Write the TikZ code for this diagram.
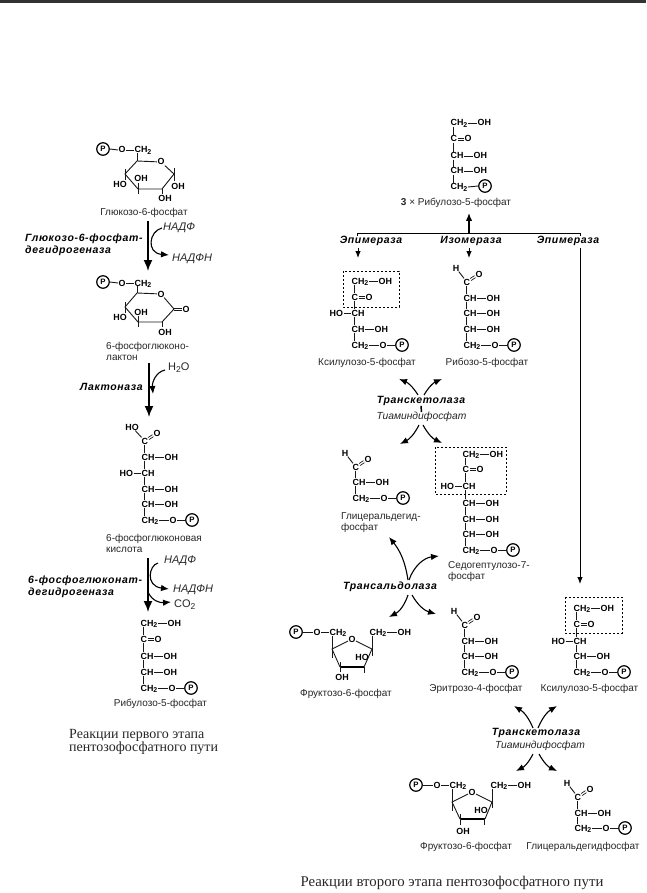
\documentclass[tikz,border=0pt]{standalone}
\usepackage{fontspec}
\usetikzlibrary{arrows.meta,calc}
\setmainfont{Liberation Sans}
\newfontfamily\enzfont[LetterSpace=6]{Liberation Sans}
\newfontfamily\capfont{Liberation Serif}
\newcommand{\two}{\raisebox{-1.6pt}{\fontsize{7}{7}\selectfont 2}}
% groups
\newcommand{\gr}[4]{\node[chem] (#1) at (#2,#3) {#4};}
\newcommand{\hb}[2]{\draw[bond] (#1.east) -- (#2.west);}
\newcommand{\vb}[2]{\draw[bond] ([xshift=3pt]#1.south west) -- ([xshift=3pt]#2.north west);}
% double bonds, drawn as two lines
\newcommand{\dbh}[2]{\draw[dbl,transform canvas={yshift=1.1pt}] (#1) -- (#2);\draw[dbl,transform canvas={yshift=-1.1pt}] (#1) -- (#2);}
\newcommand{\dbd}[2]{\draw[dbl,transform canvas={xshift=-.5pt,yshift=1pt}] (#1) -- (#2);\draw[dbl,transform canvas={xshift=.5pt,yshift=-1pt}] (#1) -- (#2);}
\newcommand{\CHOH}[3]{\gr{#1}{#2}{#3}{CH}\gr{#1r}{#2+23}{#3}{OH}\hb{#1}{#1r}}
\newcommand{\HOCH}[3]{\gr{#1}{#2}{#3}{CH}\gr{#1l}{#2-22}{#3}{HO}\hb{#1l}{#1}}
\newcommand{\COd}[3]{\gr{#1}{#2}{#3}{C}\gr{#1r}{#2+14}{#3}{O}\dbh{#1.east}{#1r.west}}
\newcommand{\CHtOH}[3]{\gr{#1}{#2}{#3}{CH\two}\gr{#1r}{#2+27}{#3}{OH}\hb{#1}{#1r}}
\newcommand{\CHtOP}[3]{\gr{#1}{#2}{#3}{CH\two}\gr{#1o}{#2+28}{#3}{O}\node[pc] (#1p) at (#2+51,#3) {P};\hb{#1}{#1o}\hb{#1o}{#1p}}
\newcommand{\CHO}[3]{\gr{#1}{#2}{#3}{C}\node[chemc] (#1h) at (#2-7,#3-14) {H};\node[chemc] (#1o) at (#2+16,#3-8) {O};\draw[bond] (#1h) -- (#1);\dbd{#1}{#1o}}
\tikzset{
  chem/.style={font=\fontsize{8.9}{9}\selectfont\bfseries,inner sep=0pt,outer sep=0.6pt,text height=6pt,text depth=0pt,anchor=west},
  chemc/.style={chem,anchor=center},
  bond/.style={line width=0.9pt,black!90},
  dbl/.style={line width=0.7pt,black!90},
  pc/.style={circle,draw,line width=1.2pt,inner sep=0pt,minimum size=12.5pt,font=\fontsize{7.8}{8}\selectfont\bfseries},
  lab/.style={font=\fontsize{10}{11}\selectfont,black!85,inner sep=0pt},
  labl/.style={lab,anchor=west,align=left},
  enz/.style={font=\fontsize{10.5}{12}\selectfont\enzfont\bfseries\itshape,inner sep=0pt,align=left},
  cof/.style={font=\fontsize{10.3}{11}\selectfont\itshape,black!85,inner sep=0pt},
  nad/.style={font=\fontsize{11}{12}\selectfont\itshape,black!85,inner sep=0pt,anchor=west},
  captxt/.style={font=\fontsize{14}{13}\selectfont\capfont,black!85,inner sep=0pt},
  mainarr/.style={line width=1.6pt,-{Latex[length=11pt,width=9pt]}},
  sidearr/.style={line width=1.1pt,-{Latex[length=8pt,width=6.5pt]}},
  thinl/.style={line width=0.9pt},
  smallarr/.style={line width=0.9pt,-{Latex[length=7pt,width=5.5pt]}},
  dbox/.style={line width=1pt,dash pattern=on 2pt off 2pt},
}
\begin{document}
\begin{tikzpicture}[x=1pt,y=-1pt]
\useasboundingbox (0,0) rectangle (646,893);
\fill[black!80] (0,0) rectangle (646,3);
% ---------- glucose-6-phosphate
\node[pc] (ga) at (103,149) {P};
\gr{gb}{118}{150}{O}\gr{gc}{134}{150}{CH\two}\hb{ga}{gb}\hb{gb}{gc}
\node[chemc] (gO) at (161,162) {O};
\coordinate (gtl) at (137,161);\coordinate (gr) at (174,174);\coordinate (gbr) at (162,189);\coordinate (gbl) at (138,189);\coordinate (gl) at (125,174);
\draw[bond] (gO) -- (gtl) -- (gl) -- (gbl) -- (gbr) -- (gr) -- (gO);
\draw[bond] (137,153) -- (gtl);
\draw[bond] (125,169) -- (125,180);\draw[bond] (138,183) -- (138,194);\draw[bond] (174,168) -- (174,181);\draw[bond] (162,189) -- (162,194);
\node[chemc] (g1) at (120,185) {HO};\node[chemc] (g2) at (141,179) {OH};\node[chemc] (g3) at (178,187) {OH};\node[chemc] (g4) at (165,199) {OH};
\node[lab] (lg) at (144,213) {Глюкозо-6-фосфат};
% arrow 1
\coordinate (a1s) at (148,221);\coordinate (a1e) at (148,271);
\draw[mainarr] (a1s) -- (a1e);
\node[nad] (n1) at (163,228) {НАДФ};
\node[nad] (n2) at (172,259) {НАДФН};
\coordinate (b1s) at (162,228);\coordinate (b1e) at (169,255);
\draw[sidearr] (b1s) .. controls (149,231) and (146,253) .. (b1e);
\node[enz,anchor=west] (e1) at (25,245) {Глюкозо-6-фосфат-\\дегидрогеназа};
% ---------- lactone
\node[pc] (la) at (103,282) {P};
\gr{lb}{118}{283}{O}\gr{lc}{134}{283}{CH\two}\hb{la}{lb}\hb{lb}{lc}
\node[chemc] (lO) at (161,294) {O};
\coordinate (ltl) at (137,293);\coordinate (lr) at (174,309);\coordinate (lbr) at (162,322);\coordinate (lbl) at (138,322);\coordinate (ll) at (125,307);
\draw[bond] (lO) -- (ltl) -- (ll) -- (lbl) -- (lbr) -- (lr) -- (lO);
\draw[bond] (137,286) -- (ltl);
\draw[bond] (125,302) -- (125,313);\draw[bond] (138,316) -- (138,327);\draw[bond] (162,322) -- (162,327);
\node[chemc] (l1) at (120,317) {HO};\node[chemc] (l2) at (141,312) {OH};\node[chemc] (l3) at (186,309) {O};\node[chemc] (l4) at (165,332) {OH};
\dbh{lr}{l3.west}
\node[labl] (ll1) at (106,351.5) {6-фосфоглюконо-\\лактон};
% arrow 2
\coordinate (a2s) at (149,363);\coordinate (a2e) at (149,417);
\draw[mainarr] (a2s) -- (a2e);
\coordinate (b2s) at (165,370);\coordinate (b2e) at (153,394);
\draw[sidearr] (b2s) .. controls (156,372) and (152,382) .. (b2e);
\node[font=\fontsize{11}{12}\selectfont,anchor=west,inner sep=0pt,black!85] (w) at (168,368) {H\raisebox{-2pt}{\fontsize{8.5}{9}\selectfont 2}O};
\node[enz,anchor=west] (e2) at (80,387) {Лактоназа};
% ---------- gluconate
\gr{m1}{141}{441}{C}\node[chemc] (m1h) at (132,427) {HO};\node[chemc] (m1o) at (157,433) {O};
\draw[bond] (m1h) -- (m1);\dbd{m1}{m1o}
\CHOH{m2}{141}{457}\HOCH{m3}{141}{473}\CHOH{m4}{141}{489}\CHOH{m5}{141}{504}\CHtOP{m6}{141}{520}
\vb{m1}{m2}\vb{m2}{m3}\vb{m3}{m4}\vb{m4}{m5}\vb{m5}{m6}
\node[labl] (lm) at (106,543.5) {6-фосфоглюконовая\\кислота};
% arrow 3
\coordinate (a3s) at (148,558);\coordinate (a3e) at (148,612);
\draw[mainarr] (a3s) -- (a3e);
\coordinate (b3s) at (158,563);\coordinate (b3e) at (169,589);
\draw[sidearr] (b3s) .. controls (149,565) and (145,586) .. (b3e);
\coordinate (c3s) at (148,592);\coordinate (c3e) at (171,602);
\draw[sidearr] (c3s) .. controls (152,601) and (160,603) .. (c3e);
\node[nad] (n3) at (164,561) {НАДФ};
\node[nad] (n4) at (173,590) {НАДФН};
\node[font=\fontsize{11}{12}\selectfont,anchor=west,inner sep=0pt,black!85] (co) at (174,605) {CO\raisebox{-2pt}{\fontsize{8.5}{9}\selectfont 2}};
\node[enz,anchor=west] (e3) at (28,586.5) {6-фосфоглюконат-\\дегидрогеназа};
% ---------- ribulose left
\CHtOH{r1}{140}{623}\COd{r2}{140}{639}\CHOH{r3}{140}{656}\CHOH{r4}{140}{672}\CHtOP{r5}{140}{688}
\vb{r1}{r2}\vb{r2}{r3}\vb{r3}{r4}\vb{r4}{r5}
\node[lab] (lr5) at (160.5,704) {Рибулозо-5-фосфат};
\node[captxt,anchor=west,align=left] (cp1) at (69,742) {Реакции первого этапа\\пентозофосфатного пути};
% ---------- ribulose top right
\CHtOH{t1}{450}{123}\COd{t2}{450}{139}\CHOH{t3}{450}{156}\CHOH{t4}{450}{171}
\gr{t5}{450}{187}{CH\two}\node[pc] (t5p) at (485,186) {P};\hb{t5}{t5p}
\vb{t1}{t2}\vb{t2}{t3}\vb{t3}{t4}\vb{t4}{t5}
\node[lab] (lt) at (456,203) {\textbf{3} × Рибулозо-5-фосфат};
\coordinate (tu) at (469,233);\coordinate (tt) at (469,213);
\coordinate (hl) at (357,233);\coordinate (hr) at (580,233);
\draw[thinl] (357,236) -- (hl) -- (hr) -- (580,236);
\draw[mainarr,line width=1.3pt,-{Latex[length=8pt,width=6.5pt]}] (tu) -- (tt);
\node[enz] (ep1) at (371,241) {Эпимераза};
\node[enz] (iz) at (471,241) {Изомераза};
\node[enz] (ep2) at (568,241) {Эпимераза};
\coordinate (s1) at (358,248);\coordinate (s2) at (358,258);\draw[smallarr] (s1) -- (s2);
\coordinate (s3) at (469,248);\coordinate (s4) at (469,258);\draw[smallarr] (s3) -- (s4);
\coordinate (s5) at (580,248);\coordinate (s6) at (580,584);\draw[smallarr] (s5) -- (s6);
% xylulose 1
\CHtOH{x1}{351}{281}\COd{x2}{351}{297}\HOCH{x3}{351}{313}\CHOH{x4}{351}{329}\CHtOP{x5}{351}{345}
\vb{x1}{x2}\vb{x2}{x3}\vb{x3}{x4}\vb{x4}{x5}
\draw[dbox] (343,271) rectangle (399,307);
\node[lab] (lx) at (367,363) {Ксилулозо-5-фосфат};
% ribose
\CHO{y1}{463}{282}\CHOH{y2}{463}{298}\CHOH{y3}{463}{313}\CHOH{y4}{463}{329}\CHtOP{y5}{463}{345}
\vb{y1}{y2}\vb{y2}{y3}\vb{y3}{y4}\vb{y4}{y5}
\node[lab] (ly) at (487,363) {Рибозо-5-фосфат};
% transketolase 1
\node[enz] (tk1) at (421,401) {Транскетолаза};
\node[cof] (td1) at (421.5,417) {Тиаминдифосфат};
\draw[line width=1.5pt] (tk1.south) -- (td1.north);
\coordinate (u1) at (418,395);\coordinate (u2) at (399,379);\coordinate (u3) at (424,395);\coordinate (u4) at (442,379);
\coordinate (d1) at (419,425);\coordinate (d2) at (400,444);\coordinate (d3) at (423,425);\coordinate (d4) at (442,443);
\draw[sidearr] (u1) to[bend right=18] (u2);\draw[sidearr] (u3) to[bend left=18] (u4);
\draw[sidearr] (d1) to[bend left=18] (d2);\draw[sidearr] (d3) to[bend right=18] (d4);
% glyceraldehyde P 1
\CHO{z1}{352}{467}\CHOH{z2}{352}{482}\CHtOP{z3}{352}{498}
\vb{z1}{z2}\vb{z2}{z3}
\node[labl] (lz) at (341,523) {Глицеральдегид-\\фосфат};
% sedoheptulose
\CHtOH{h1}{462}{454}\COd{h2}{462}{469}\HOCH{h3}{462}{486}\CHOH{h4}{462}{503}\CHOH{h5}{462}{519}\CHOH{h6}{462}{534}\CHtOP{h7}{462}{550}
\vb{h1}{h2}\vb{h2}{h3}\vb{h3}{h4}\vb{h4}{h5}\vb{h5}{h6}\vb{h6}{h7}
\draw[dbox] (435,447) rectangle (506,494);
\node[labl] (lh) at (448,571.5) {Седогептулозо-7-\\фосфат};
% transaldolase
\node[enz] (ta) at (390,587) {Трансальдолаза};
\coordinate (p1) at (408,580);\coordinate (p2) at (389,537);\coordinate (p3) at (409,580);\coordinate (p4) at (439,556);
\coordinate (q1) at (408,595);\coordinate (q2) at (389,617);\coordinate (q3) at (412,595);\coordinate (q4) at (436,614);
\draw[sidearr] (p1) to[bend right=15] (p2);\draw[sidearr] (p3) to[bend left=32] (p4);
\draw[sidearr] (q1) to[bend left=22] (q2);\draw[sidearr] (q3) to[bend right=22] (q4);
% fructose 1
\node[pc] (fa) at (296,632) {P};
\gr{fb}{313}{632}{O}\gr{fc}{329}{632}{CH\two}\hb{fa}{fb}\hb{fb}{fc}
\gr{fd}{369}{632}{CH\two}\gr{fe}{397}{632}{OH}\hb{fd}{fe}
\node[chemc] (fO) at (352,639) {O};
\coordinate (fl) at (332,649);\coordinate (fbl) at (340,667);\coordinate (fbr) at (364,667);\coordinate (fr) at (372,649);
\draw[bond] (fO) -- (fl) -- (fbl);\draw[line width=1.4pt] (fbl) -- (fbr);\draw[bond] (fbr) -- (fr) -- (fO);
\draw[bond] (332,636) -- (332,658);\draw[bond] (372,636) -- (372,656);\draw[bond] (364,667) -- (364,673);\draw[bond] (340,662) -- (340,672);
\node[chemc] (f1) at (362,657) {HO};\node[chemc] (f2) at (342,677) {OH};
\node[lab] (lf) at (346,694) {Фруктозо-6-фосфат};
% erythrose
\CHO{w1}{461}{625}\CHOH{w2}{461}{641}\CHOH{w3}{461}{656}\CHtOP{w4}{461}{672}
\vb{w1}{w2}\vb{w2}{w3}\vb{w3}{w4}
\node[lab] (lw) at (476,689) {Эритрозо-4-фосфат};
% xylulose 2
\CHtOH{v1}{573}{608}\COd{v2}{573}{624}\HOCH{v3}{573}{641}\CHOH{v4}{573}{656}\CHtOP{v5}{573}{672}
\vb{v1}{v2}\vb{v2}{v3}\vb{v3}{v4}\vb{v4}{v5}
\draw[dbox] (565,597) rectangle (622,633);
\node[lab] (lv) at (589.5,689) {Ксилулозо-5-фосфат};
% transketolase 2
\node[enz] (tk2) at (536,733) {Транскетолаза};
\node[cof] (td2) at (540,746) {Тиаминдифосфат};
\coordinate (i1) at (533,728);\coordinate (i2) at (514,706);\coordinate (i3) at (538,728);\coordinate (i4) at (557,706);
\coordinate (j1) at (533,754);\coordinate (j2) at (516,771);\coordinate (j3) at (539,754);\coordinate (j4) at (557,771);
\draw[sidearr] (i1) to[bend right=18] (i2);\draw[sidearr] (i3) to[bend left=18] (i4);
\draw[sidearr] (j1) to[bend left=18] (j2);\draw[sidearr] (j3) to[bend right=18] (j4);
% fructose 2
\node[pc] (ka) at (416,785) {P};
\gr{kb}{433}{785}{O}\gr{kc}{449}{785}{CH\two}\hb{ka}{kb}\hb{kb}{kc}
\gr{kd}{490}{785}{CH\two}\gr{ke}{517}{785}{OH}\hb{kd}{ke}
\node[chemc] (kO) at (472,792) {O};
\coordinate (kl) at (452,802);\coordinate (kbl) at (460,819);\coordinate (kbr) at (485,819);\coordinate (kr) at (492,802);
\draw[bond] (kO) -- (kl) -- (kbl);\draw[line width=1.4pt] (kbl) -- (kbr);\draw[bond] (kbr) -- (kr) -- (kO);
\draw[bond] (452,789) -- (452,811);\draw[bond] (492,789) -- (492,808);\draw[bond] (484,819) -- (484,825);\draw[bond] (460,814) -- (460,825);
\node[chemc] (k1) at (481,810) {HO};\node[chemc] (k2) at (463,831) {OH};
\node[lab] (lk) at (466,847) {Фруктозо-6-фосфат};
% glyceraldehyde P 2
\CHO{o1}{574}{797}\CHOH{o2}{574}{813}\CHtOP{o3}{574}{828}
\vb{o1}{o2}\vb{o2}{o3}
\node[lab] (lo) at (583,847) {Глицеральдегидфосфат};
\node[captxt,font=\fontsize{14.8}{15}\selectfont\capfont] (cp2) at (452,883) {Реакции второго этапа пентозофосфатного пути};
\end{tikzpicture}
\end{document}
